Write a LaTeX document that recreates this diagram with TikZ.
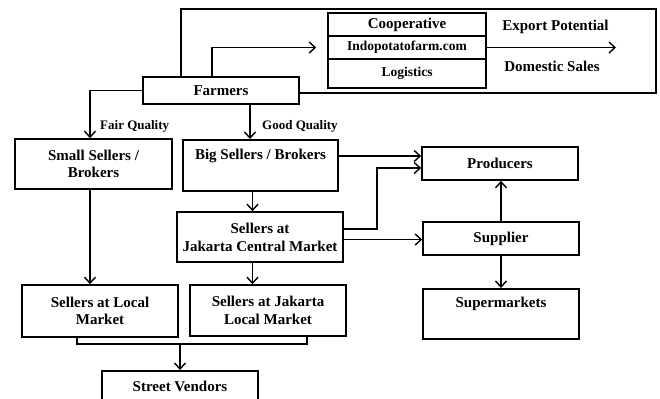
\documentclass[tikz,border=0pt]{standalone}
\usepackage{fontspec}
\setmainfont{Liberation Serif}
\usetikzlibrary{arrows.meta}
\begin{document}
\begin{tikzpicture}[x=1bp,y=-1bp,
  bf/.style={font=\bfseries\fontsize{15bp}{17.5bp}\selectfont},
  box/.style={draw, line width=1.6bp, inner sep=0pt, bf, align=center},
  conn/.style={line width=1.4bp},
  frame/.style={line width=1.6bp},
  arr/.style={conn, -{Straight Barb[length=6bp,width=11bp,line width=1.4bp]}},
  lab/.style={font=\bfseries\fontsize{13bp}{15bp}\selectfont, inner sep=0pt}]
\path[use as bounding box, clip] (0,0) rectangle (660,398);
% boxes
\node[box, minimum width=156bp, minimum height=27bp] (far) at (221,90.5) {Farmers};
\node[box, minimum width=158bp, minimum height=23bp] (coop) at (407,24.5) {Cooperative};
\node[box, minimum width=158bp, minimum height=23bp, font=\bfseries\fontsize{13.5bp}{15bp}\selectfont] (indo) at (407,47.5) {Indopotatofarm.com};
\node[box, minimum width=158bp, minimum height=29bp, font=\bfseries\fontsize{13.5bp}{15bp}\selectfont] (logi) at (407,73.5) {Logistics};
\node[box, minimum width=157bp, minimum height=50bp] (small) at (93.5,164) {Small Sellers /\\Brokers};
\node[box, minimum width=155bp, text height=20bp, text depth=31bp, anchor=north] (big) at (260.5,139) {Big Sellers / Brokers};
\node[box, minimum width=156bp, minimum height=33bp] (prod) at (500,163.5) {Producers};
\node[box, minimum width=166bp, minimum height=50bp, font=\bfseries\fontsize{15bp}{18bp}\selectfont] (cen) at (260,237) {Sellers at\\Jakarta Central Market};
\node[box, minimum width=156bp, minimum height=33bp] (sup) at (501,238.5) {Supplier};
\node[box, minimum width=156bp, text height=19bp, text depth=31bp, anchor=north] (smk) at (501,288) {Supermarkets};
\node[box, minimum width=156bp, minimum height=52bp] (loc) at (100,311) {Sellers at Local\\Market};
\node[box, minimum width=156bp, minimum height=51bp] (jl) at (268,310.5) {Sellers at Jakarta\\Local Market};
\node[box, minimum width=156bp, text height=21bp, text depth=29bp, anchor=north] (sv) at (180,370) {Street Vendors};
% texts
\node[bf, inner sep=0pt] (exp) at (555.5,27) {Export Potential};
\node[bf, inner sep=0pt] (dom) at (552,66) {Domestic Sales};
\node[lab, anchor=west] (fair) at (100,126) {Fair Quality};
\node[lab, anchor=west] (good) at (262,126) {Good Quality};
% helper coordinates
\coordinate (ftl) at (181,9);
\coordinate (fbr) at (656,93);
\coordinate (fup) at (212,48);
\coordinate (expend) at (616,47.5);
\coordinate (sx) at (90,0);
\coordinate (bx) at (250,0);
\coordinate (c1) at (0,229);
\coordinate (c2) at (377,168);
\coordinate (c3) at (0,239.5);
\coordinate (c4) at (252.5,0);
\coordinate (pa) at (0,156);
\coordinate (m1) at (77,344);
\coordinate (m2) at (307,344);
% frame
\draw[frame] (far.north west -| ftl) -- (ftl) -| (fbr) -- (fbr -| far.east);
% connectors
\draw[arr] (far.north -| fup) |- ([xshift=-11bp]indo.west);
\draw[arr] (indo.east) -- (expend);
\draw[arr] (far.west) -| (small.north -| sx);
\draw[arr] (far.south -| bx) -- (big.north -| bx);
\draw[arr] (big.east |- pa) -- (prod.west |- pa);
\draw[arr] (cen.east |- c1) -| (c2) -- (prod.west |- c2);
\draw[arr] (cen.east |- c3) -- (sup.west |- c3);
\draw[arr] (sup.north) -- (sup.north |- prod.south);
\draw[arr] (sup.south) -- (smk.north);
\draw[arr] (small.south -| sx) -- (loc.north -| sx);
\draw[arr] (big.south -| c4) -- (cen.north -| c4);
\draw[arr] (cen.south -| c4) -- (jl.north -| c4);
\draw[conn] (loc.south -| m1) -- (m1) -- (m2) -- (jl.south -| m2);
\draw[arr] (sv.north |- m1) -- (sv.north);
\end{tikzpicture}
\end{document}
